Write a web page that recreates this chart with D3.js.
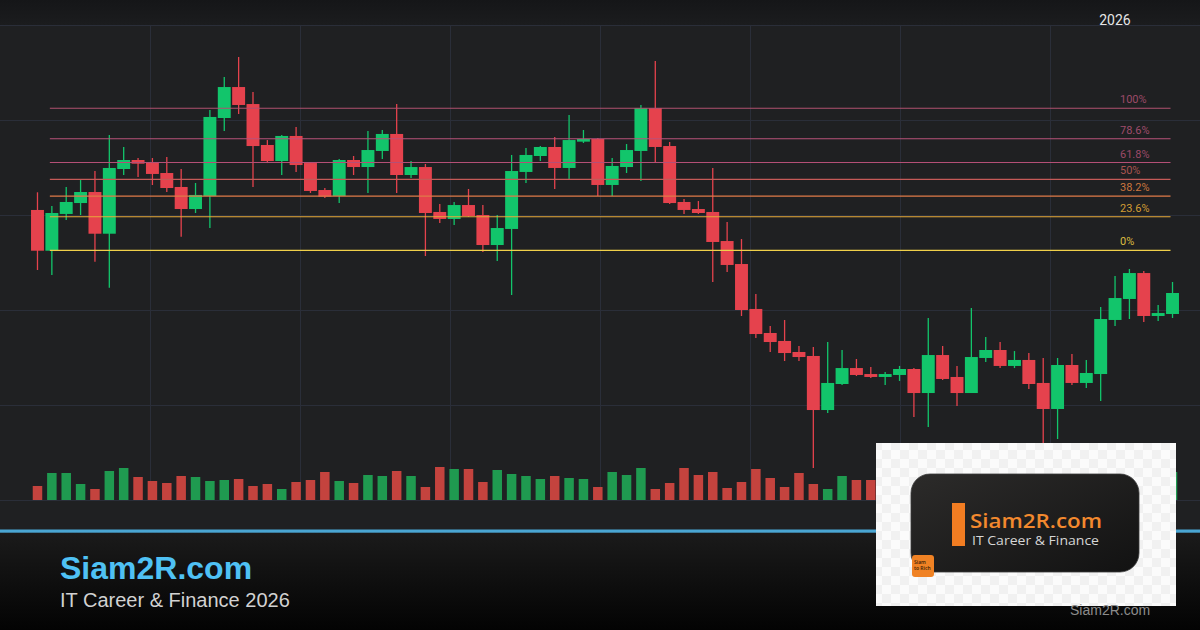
<!DOCTYPE html>
<html>
<head>
<meta charset="utf-8">
<script src="https://cdn.jsdelivr.net/npm/d3@7"></script>
<style>
  html, body { margin: 0; padding: 0; background: #1f2022; overflow: hidden; }
</style>
</head>
<body>
<div id="chart"></div>
<script>
// Daily sessions (no axis labels shown on the picture)
const sessions = d3.range(80);

const opens = [140.53,136.24,140.11,141.26,142.42,138.03,144.84,145.79,145.58,144.42,
  142.95,140.63,142.00,150.21,153.47,151.68,147.37,145.68,148.32,145.47,
  142.63,142.00,145.79,145.05,146.74,148.53,144.21,145.05,140.32,139.58,
  141.05,140.00,136.84,138.53,144.53,146.21,147.16,144.95,147.72,148.00,
  143.16,145.05,146.74,151.26,147.26,141.37,140.63,140.32,137.26,134.84,
  130.11,127.58,126.74,125.58,125.16,119.47,122.21,123.89,123.26,122.95,
  123.16,123.79,121.26,125.26,122.95,121.26,124.95,125.79,124.11,124.74,
  122.32,119.58,124.21,122.32,123.26,128.95,131.16,133.89,129.37,129.58];

const highs = [142.39,140.95,142.95,143.68,144.63,148.42,147.16,146.00,146.00,146.11,
  144.84,143.37,151.05,154.53,156.63,152.95,147.89,148.42,149.26,145.58,
  142.84,145.89,146.21,148.84,148.95,151.68,145.68,145.37,141.16,141.37,
  142.74,141.05,140.00,146.32,147.05,147.26,148.21,150.53,148.95,148.11,
  146.00,147.47,151.58,156.21,147.68,141.68,141.47,144.95,139.26,137.47,
  131.68,128.32,128.95,126.21,126.11,126.63,125.79,124.84,124.00,123.47,
  124.11,123.89,129.16,126.21,124.11,130.21,127.16,126.63,125.68,125.47,
  124.95,124.95,125.37,124.74,130.32,133.58,134.32,134.11,130.53,132.95];

const lows = [134.21,133.68,139.47,140.00,135.08,132.35,144.21,144.00,143.16,142.42,
  137.72,140.21,138.63,148.84,150.63,142.95,145.47,144.21,144.53,142.32,
  141.79,141.26,144.21,142.32,145.89,142.32,143.89,135.68,139.16,138.95,
  139.79,136.11,135.16,131.58,143.37,145.68,142.74,143.79,147.58,142.00,
  142.00,144.42,143.58,145.47,141.16,140.11,140.11,132.95,134.00,129.37,
  127.05,125.58,124.63,124.63,113.37,119.16,122.11,123.05,122.84,122.11,
  122.53,118.74,117.68,122.63,119.89,121.26,124.53,123.89,123.89,121.68,
  115.68,116.42,122.11,121.79,120.42,128.32,129.05,128.74,128.84,129.16];

const closes = [136.24,140.21,141.37,142.42,138.03,144.95,145.79,145.40,144.32,142.84,
  140.63,142.11,150.32,153.47,151.58,147.26,145.68,148.32,145.26,142.53,
  141.93,145.79,145.05,146.84,148.53,144.21,145.05,140.21,139.58,141.05,
  139.89,136.84,138.63,144.63,146.32,147.16,144.95,147.89,148.00,143.16,
  145.16,146.84,151.26,147.16,141.26,140.53,140.21,137.16,134.74,130.00,
  127.47,126.63,125.47,125.05,119.47,122.32,123.89,123.16,122.95,123.26,
  123.79,121.26,125.26,122.74,121.26,125.05,125.79,124.11,124.74,122.21,
  119.58,124.21,122.32,123.37,129.05,131.26,133.89,129.37,129.68,131.79];

// volume, in 100k shares
const volumes = [14,27,27,16,11,29,32,23,19,17,24,23,19,20,21,14,16,11,18,20,
  28,19,17,25,24,29,24,13,33,31,31,18,30,26,24,21,24,22,21,13,
  28,25,32,11,17,32,25,28,12,18,31,22,13,27,16,11,24,20,20,15,
  18,22,26,20,17,24,14,19,16,21,27,25,18,15,30,25,22,24,12,28];

// Fibonacci retracement anchors
const fibHigh = 151.23;
const fibLow  = 136.28;
const fibRatios = [1, 0.786, 0.618, 0.5, 0.382, 0.236, 0];
const fibLabels = ["100%", "78.6%", "61.8%", "50%", "38.2%", "23.6%", "0%"];
const fibLineColors  = ["#b0506f", "#b8527a", "#b44f76", "#c45a58", "#e07a48", "#e8aa3a", "#f0d04a"];
const fibLabelColors = ["#9c4a68", "#a04c6c", "#9c4a68", "#a85450", "#cc763e", "#d39c34", "#dcbc40"];

const config = {
  width      : 1200,
  height     : 630,
  plotTop    : 25,
  plotBottom : 500,
  up         : "#12c56b",
  down       : "#e5424d",
  volUp      : "#1f9a50",
  volDown    : "#c4433e",
  grid       : "#2a2e39",
};

const svg = d3.select("#chart")
  .append("svg")
    .attr("width", config.width)
    .attr("height", config.height)
    .style("display", "block");

const defs = svg.append("defs");

const footGrad = defs.append("linearGradient")
  .attr("id", "footGrad").attr("x1", 0).attr("y1", 0).attr("x2", 0).attr("y2", 1);
footGrad.append("stop").attr("offset", "0%").attr("stop-color", "#1b1b1b");
footGrad.append("stop").attr("offset", "100%").attr("stop-color", "#030303");

const topGrad = defs.append("linearGradient")
  .attr("id", "topGrad").attr("x1", 0).attr("y1", 0).attr("x2", 0).attr("y2", 1);
topGrad.append("stop").attr("offset", "0%").attr("stop-color", "#151618");
topGrad.append("stop").attr("offset", "100%").attr("stop-color", "#1b1c1e");

const logoGrad = defs.append("linearGradient")
  .attr("id", "logoGrad").attr("x1", 0).attr("y1", 0).attr("x2", 1).attr("y2", 1);
logoGrad.append("stop").attr("offset", "0%").attr("stop-color", "#2c2b2a");
logoGrad.append("stop").attr("offset", "100%").attr("stop-color", "#121212");

const checker = defs.append("pattern")
  .attr("id", "checker").attr("width", 18).attr("height", 18)
  .attr("patternUnits", "userSpaceOnUse");
checker.append("rect").attr("width", 18).attr("height", 18).attr("fill", "#fbfbfb");
checker.append("rect").attr("width", 9).attr("height", 9).attr("fill", "#f1f1f1");
checker.append("rect").attr("x", 9).attr("y", 9).attr("width", 9).attr("height", 9).attr("fill", "#f1f1f1");

// backgrounds
svg.append("rect").attr("width", config.width).attr("height", config.height).attr("fill", "#1f2022");
svg.append("rect").attr("width", config.width).attr("height", config.plotTop).attr("fill", "url(#topGrad)");

// scales
const x = d3.scaleBand()
  .domain(sessions)
  .range([30.3, 1179.7])
  .paddingInner(0.1)
  .paddingOuter(0.05);
const bw = x.bandwidth();
const cx = i => x(i) + bw / 2;

const y = d3.scaleLinear().domain([110, 160]).range([config.plotBottom, config.plotTop]);
const yVol = d3.scaleLinear().domain([0, 40]).range([config.plotBottom, config.plotBottom - 40]);
const gx = d3.scaleLinear().domain([0, 8]).range([0, config.width]);

// grid
const grid = svg.append("g").attr("class", "grid");
grid.selectAll(".hline")
  .data(y.ticks(5))
  .enter().append("line")
    .attr("x1", 0).attr("x2", config.width)
    .attr("y1", d => Math.round(y(d)) + 0.5)
    .attr("y2", d => Math.round(y(d)) + 0.5)
    .attr("stroke", config.grid).attr("stroke-width", 1);
grid.selectAll(".vline")
  .data(d3.range(1, 8))
  .enter().append("line")
    .attr("x1", d => Math.round(gx(d)) + 0.5)
    .attr("x2", d => Math.round(gx(d)) + 0.5)
    .attr("y1", config.plotTop).attr("y2", config.plotBottom)
    .attr("stroke", config.grid).attr("stroke-width", 1);

svg.append("text")
  .attr("x", 1115).attr("y", 25)
  .attr("text-anchor", "middle")
  .style("font-family", "Roboto, sans-serif")
  .style("font-size", "14px")
  .attr("fill", "#e6e6e6")
  .text("2026");

// volume
svg.append("g").selectAll("rect")
  .data(sessions)
  .enter().append("rect")
    .attr("x", i => cx(i) - 4.75)
    .attr("width", 9.5)
    .attr("y", i => yVol(volumes[i]))
    .attr("height", i => yVol(0) - yVol(volumes[i]))
    .attr("fill", i => closes[i] >= opens[i] ? config.volUp : config.volDown);

// candles
const candles = svg.append("g").selectAll("g")
  .data(sessions)
  .enter().append("g");

candles.append("line")
  .attr("x1", cx).attr("x2", cx)
  .attr("y1", i => y(highs[i]))
  .attr("y2", i => y(lows[i]))
  .attr("stroke", i => closes[i] >= opens[i] ? config.up : config.down)
  .attr("stroke-width", 1.3);

candles.append("rect")
  .attr("x", i => x(i))
  .attr("width", bw)
  .attr("y", i => y(Math.max(opens[i], closes[i])))
  .attr("height", i => Math.max(1.5, Math.abs(y(opens[i]) - y(closes[i]))))
  .attr("fill", i => closes[i] >= opens[i] ? config.up : config.down);

// fibonacci retracement
const fibStart = cx(1) - 2;
const fibEnd = cx(sessions.length - 1) - 2;
const fib = svg.append("g").selectAll("g")
  .data(fibRatios)
  .enter().append("g");

fib.append("line")
  .attr("x1", fibStart).attr("x2", fibEnd)
  .attr("y1", r => y(fibLow + r * (fibHigh - fibLow)))
  .attr("y2", r => y(fibLow + r * (fibHigh - fibLow)))
  .attr("stroke", (r, i) => fibLineColors[i])
  .attr("stroke-width", 1.1);

fib.append("text")
  .attr("x", 1120)
  .attr("y", r => y(fibLow + r * (fibHigh - fibLow)) - 5)
  .style("font-family", "Roboto, sans-serif")
  .style("font-size", "11px")
  .attr("fill", (r, i) => fibLabelColors[i])
  .text((r, i) => fibLabels[i]);

// footer
svg.append("rect")
  .attr("x", 0).attr("y", 532).attr("width", config.width).attr("height", 98)
  .attr("fill", "url(#footGrad)");
svg.append("rect")
  .attr("x", 0).attr("y", 529.5).attr("width", config.width).attr("height", 3.2)
  .attr("fill", "#4aa6d3");

svg.append("text")
  .attr("x", 60).attr("y", 579)
  .style("font-family", "'Liberation Sans', Arial, sans-serif")
  .style("font-size", "32px").style("font-weight", "bold")
  .attr("fill", "#4fc1f4")
  .text("Siam2R.com");

svg.append("text")
  .attr("x", 60).attr("y", 607)
  .style("font-family", "'Liberation Sans', Arial, sans-serif")
  .style("font-size", "20px")
  .attr("fill", "#d2d2d2")
  .text("IT Career & Finance 2026");

// logo card
const logo = svg.append("g");
logo.append("rect")
  .attr("x", 876).attr("y", 443).attr("width", 300).attr("height", 163)
  .attr("fill", "url(#checker)");
logo.append("rect")
  .attr("x", 911).attr("y", 474).attr("width", 228).attr("height", 98)
  .attr("rx", 19)
  .attr("fill", "url(#logoGrad)")
  .attr("stroke", "#3a3a3a").attr("stroke-width", 0.8);
logo.append("rect")
  .attr("x", 952).attr("y", 503).attr("width", 13).attr("height", 43)
  .attr("fill", "#f27d22");
logo.append("text")
  .attr("x", 970).attr("y", 528)
  .attr("textLength", 132).attr("lengthAdjust", "spacingAndGlyphs")
  .style("font-family", "'Open Sans', sans-serif")
  .style("font-size", "20px").style("font-weight", 600)
  .attr("fill", "#f3892e")
  .text("Siam2R.com");
logo.append("text")
  .attr("x", 972).attr("y", 545)
  .attr("textLength", 127).attr("lengthAdjust", "spacingAndGlyphs")
  .style("font-family", "'Open Sans', sans-serif")
  .style("font-size", "12px")
  .attr("fill", "#d6d6d6")
  .text("IT Career & Finance");
logo.append("rect")
  .attr("x", 912).attr("y", 555).attr("width", 22).attr("height", 22)
  .attr("rx", 3)
  .attr("fill", "#f08224");
logo.append("text")
  .attr("x", 914).attr("y", 564)
  .style("font-family", "'Open Sans', sans-serif")
  .style("font-size", "5px").style("font-weight", 600)
  .attr("fill", "#3a1e05")
  .text("Siam");
logo.append("text")
  .attr("x", 914).attr("y", 570)
  .style("font-family", "'Open Sans', sans-serif")
  .style("font-size", "5px").style("font-weight", 600)
  .attr("fill", "#3a1e05")
  .text("to Rich");

svg.append("text")
  .attr("x", 1070).attr("y", 615)
  .style("font-family", "'Liberation Sans', Arial, sans-serif")
  .style("font-size", "14px")
  .attr("fill", "#8c8c8c")
  .text("Siam2R.com");
</script>
</body>
</html>
